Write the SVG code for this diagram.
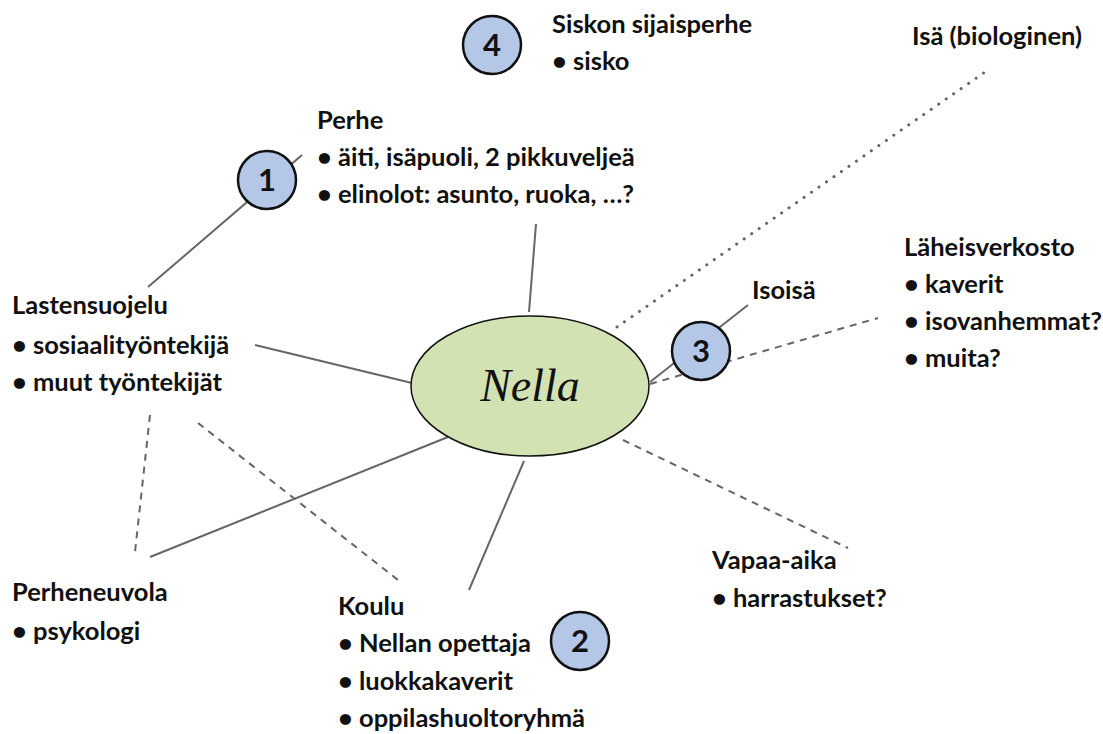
<svg xmlns="http://www.w3.org/2000/svg" width="1103" height="734" viewBox="0 0 1103 734">
  <style>
    .t { font-family: Lato, "Noto Sans", "Liberation Sans", sans-serif; font-weight: 700; font-size: 25.5px; fill: #111; }
    .num { font-family: Lato, "Noto Sans", "Liberation Sans", sans-serif; font-weight: 700; font-size: 31px; fill: #111; text-anchor: middle; }
    .solid { stroke: #666; stroke-width: 2; fill: none; }
    .dash { stroke: #666; stroke-width: 2; fill: none; stroke-dasharray: 7 6; }
    .dot { stroke: #666; stroke-width: 3; fill: none; stroke-dasharray: 0.1 9; stroke-linecap: round; }
    .badge { fill: #b4c7e7; stroke: #111; stroke-width: 2.5; }
  </style>
  <rect width="1103" height="734" fill="#fff"/>

  <g id="connectors">
    <line class="solid" x1="148" y1="287" x2="302" y2="155"/>
    <line class="solid" x1="536" y1="224" x2="529" y2="312"/>
    <line class="solid" x1="255" y1="345" x2="412" y2="383"/>
    <line class="solid" x1="150" y1="557" x2="448" y2="437"/>
    <line class="solid" x1="469" y1="590" x2="524" y2="461"/>
    <line class="solid" x1="650" y1="382" x2="748" y2="305"/>
    <line class="dash" x1="198" y1="423" x2="398" y2="580"/>
    <line class="dash" x1="150" y1="415" x2="135" y2="552"/>
    <line class="dash" x1="623" y1="440" x2="848" y2="548"/>
    <line class="dash" x1="650" y1="384" x2="878" y2="318"/>
    <line class="dot" x1="617" y1="327" x2="988" y2="70"/>
  </g>

  <g id="nella">
    <ellipse cx="530" cy="386" rx="119" ry="70" fill="#d3e2b3" stroke="#111" stroke-width="1.5"/>
    <text x="530" y="401" text-anchor="middle" font-family="'Liberation Serif', serif" font-style="italic" font-size="46" fill="#111">Nella</text>
  </g>

  <g id="badge-1">
    <circle class="badge" cx="267" cy="180" r="29"/>
    <text class="num" x="267" y="191">1</text>
  </g>
  <g id="badge-2">
    <circle class="badge" cx="580" cy="641" r="29"/>
    <text class="num" x="580" y="652">2</text>
  </g>
  <g id="badge-3">
    <circle class="badge" cx="701" cy="351" r="29"/>
    <text class="num" x="701" y="362">3</text>
  </g>
  <g id="badge-4">
    <circle class="badge" cx="492" cy="45" r="29"/>
    <text class="num" x="492" y="56">4</text>
  </g>

  <g id="siskon-sijaisperhe">
    <text class="t" x="552" y="33">Siskon sijaisperhe</text>
    <text class="t" x="552" y="70">• sisko</text>
  </g>
  <g id="isa">
    <text class="t" x="912" y="45">Isä (biologinen)</text>
  </g>
  <g id="perhe">
    <text class="t" x="317" y="129">Perhe</text>
    <text class="t" x="317" y="166">• äiti, isäpuoli, 2 pikkuveljeä</text>
    <text class="t" x="317" y="203">• elinolot: asunto, ruoka, …?</text>
  </g>
  <g id="laheisverkosto">
    <text class="t" x="904" y="256">Läheisverkosto</text>
    <text class="t" x="904" y="293">• kaverit</text>
    <text class="t" x="904" y="330">• isovanhemmat?</text>
    <text class="t" x="904" y="367">• muita?</text>
  </g>
  <g id="isoisa">
    <text class="t" x="752" y="299">Isoisä</text>
  </g>
  <g id="lastensuojelu">
    <text class="t" x="12" y="314">Lastensuojelu</text>
    <text class="t" x="12" y="354">• sosiaalityöntekijä</text>
    <text class="t" x="12" y="391">• muut työntekijät</text>
  </g>
  <g id="vapaa-aika">
    <text class="t" x="712" y="569">Vapaa-aika</text>
    <text class="t" x="712" y="607">• harrastukset?</text>
  </g>
  <g id="perheneuvola">
    <text class="t" x="12" y="601">Perheneuvola</text>
    <text class="t" x="12" y="640">• psykologi</text>
  </g>
  <g id="koulu">
    <text class="t" x="338" y="615">Koulu</text>
    <text class="t" x="338" y="652">• Nellan opettaja</text>
    <text class="t" x="338" y="690">• luokkakaverit</text>
    <text class="t" x="338" y="727">• oppilashuoltoryhmä</text>
  </g>
</svg>
